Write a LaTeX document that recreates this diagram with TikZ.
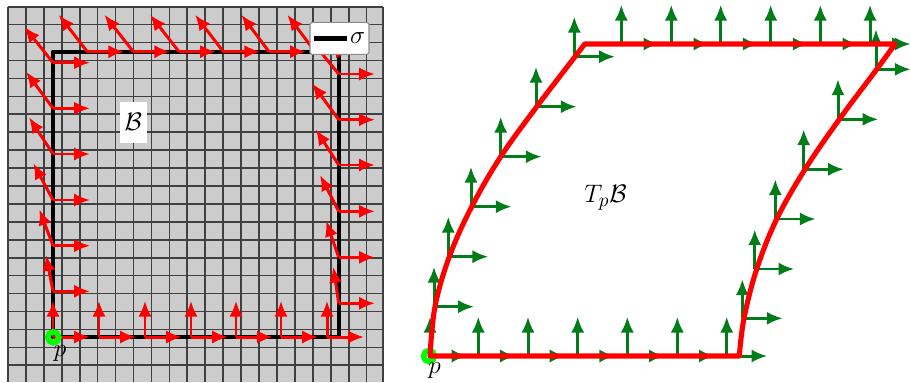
\documentclass[tikz,border=0pt]{standalone}
\usepackage{xcolor}
\usepackage{amsmath}
\usetikzlibrary{calc,arrows.meta}
\definecolor{cellgray}{gray}{0.8}
\definecolor{gridline}{gray}{0.25}
\definecolor{vecgreen}{RGB}{0,125,25}
\definecolor{markgreen}{RGB}{0,255,0}
\tikzset{
  redarr/.style={draw=red, fill=red, line width=1.7pt, -{Latex[length=9pt,width=7.5pt]}},
  greenarr/.style={draw=vecgreen, fill=vecgreen, line width=1.7pt, -{Latex[length=9pt,width=7.5pt]}},
  redline/.style={draw=red, line width=2.9pt},
  pmark/.style={draw=markgreen, line width=3.2pt},
  biglabel/.style={font=\fontsize{15}{17}\selectfont, inner sep=0pt},
}

\begin{document}
\begin{tikzpicture}[x=0.02cm,y=-0.02cm]
  \useasboundingbox (0,0) rectangle (911,382);

  % Body B — grid
  \fill[cellgray] (8,6.7) rectangle (382.7,382);
  \foreach \i in {0,...,20} {
    \draw[gridline, line width=0.95pt] ({8+17.93*\i},6.7) -- ({8+17.93*\i},382);
    \draw[gridline, line width=0.95pt] (8,{6.7+17.93*\i}) -- (382.7,{6.7+17.93*\i});
  }
  \draw[gridline, line width=0.95pt] (382.7,6.7) -- (382.7,382);

  % Loop sigma
  \draw[black, line width=2.8pt, line join=round] (53,337) -- (53,52) -- (339,52) -- (339,337) -- cycle;

  % Vectors along the bottom
  \foreach \bx in {53,99,145,191,236,281,327} {
    \draw[redarr] (\bx,337) -- (\bx,300.7);
    \draw[redarr] (\bx,337) -- ++(37,0);
  }

  % Vectors up the left side
  \foreach \by/\tx/\ty in {291.3/46/255, 245.7/39.3/209.3, 200/33.3/163.3, 154/29/117.3, 108.3/26/71.7, 62.7/24.3/26.7} {
    \draw[redarr] (53,\by) -- (\tx,\ty);
    \draw[redarr] (53,\by) -- ++(37,0);
  }

  % Vectors along the top
  \foreach \bx/\tx in {87.3/58.7, 133.3/104.3, 179/150, 223.3/195, 269/241.3, 315/287.3} {
    \draw[redarr] (\bx,51.7) -- (\tx,14.7);
    \draw[redarr] (\bx,51.7) -- ++(37,0);
  }

  % Vectors up the right side
  \foreach \by/\tx/\ty in {303.3/333.3/266.7, 257.3/326/220.7, 211.3/320/175, 165/315.7/129.3, 119.7/312/83.3, 74/309/38} {
    \draw[redarr] (338.7,\by) -- (\tx,\ty);
    \draw[redarr] (338.7,\by) -- ++(36.3,0);
  }

  % Point p on the body
  \draw[pmark] (53.3,337.3) circle (5.5);
  \node[biglabel] (pleft) at (60,354) {$p$};

  % Labels on the body
  \node[fill=white, minimum width=26.7*0.02cm, minimum height=40.7*0.02cm, inner sep=0pt] (bodylabel) at (133.3,122.3) {\fontsize{15}{17}\selectfont $\mathcal{B}$};
  \node[fill=white, draw=black!45, line width=0.6pt, rounded corners=1pt, minimum width=59*0.02cm, minimum height=32*0.02cm, inner sep=0pt] (legendbox) at (339.5,38.3) {};
  \draw[black, line width=2.6pt] ($(legendbox.west)+(4.5,0)$) -- ++(32.7,0);
  \node[biglabel] (sigmalabel) at (357.5,38) {$\sigma$};

  % Tangent space — bottom edge vectors
  \foreach \bx in {430,478.3,528,577.7,627.3,677.3} {
    \draw[greenarr] (\bx,356) -- (\bx,316.7);
    \draw[greenarr] (\bx,356) -- ++(37.5,0);
  }
  \draw[greenarr] (726.7,356) -- (726.7,316.7);
  \draw[greenarr] (726.7,356) -- (767.3,356);

  % Tangent space — left edge vectors
  \foreach \bx/\by/\tx/\ty in {434/306.7/474/266.7, 448.3/256.7/488.3/216.7, 471/206.7/511.7/166.7, 500.7/156.7/541.7/116.7, 536/106.7/576.7/66.7, 574.3/56.7/615/16.7} {
    \draw[greenarr] (\bx,\by) -- (\bx,\ty);
    \draw[greenarr] (\bx,\by) -- (\tx,\by);
  }

  % Tangent space — top edge vectors
  \foreach \bx in {621.3,671.3,720.7,770.7,820.3,870} {
    \draw[greenarr] (\bx,44) -- (\bx,4.7);
    \draw[greenarr] (\bx,44) -- ++(38,0);
  }
  \draw[greenarr] (870,44) -- (910.7,44);

  % Tangent space — right edge vectors
  \foreach \bx/\by/\tx/\ty in {742.3/318.3/782.7/279.3, 754.7/269/794.3/229.3, 775.3/219/815.7/179.3, 803.7/169.3/844/129.3, 838/119.3/878.3/79.3, 876/69.3/910.7/29.3} {
    \draw[greenarr] (\bx,\by) -- (\bx,\ty);
    \draw[greenarr] (\bx,\by) -- (\tx,\by);
  }

  % Point p on the tangent space
  \draw[pmark] (429,356) circle (5.5);

  % Image of the loop
  \draw[redline, line join=round] plot[smooth, tension=0.6] coordinates {(430,356) (435,306.7) (449.3,256.7) (471.7,206.7) (500.7,156.7) (536.7,106.7) (575,56.7) (584.7,44)}
    -- (895,44)
    -- plot[smooth, tension=0.6] coordinates {(895,44) (876.7,69.3) (839.3,119.3) (805,169.3) (776.7,219) (756.7,269) (744,318.3) (739.3,356)}
    -- cycle;

  % Labels on the tangent space
  \node[biglabel] (planelabel) at (605.5,198) {$T_p\mathcal{B}$};
  \node[biglabel] (pright) at (434.5,371) {$p$};

\end{tikzpicture}
\end{document}
